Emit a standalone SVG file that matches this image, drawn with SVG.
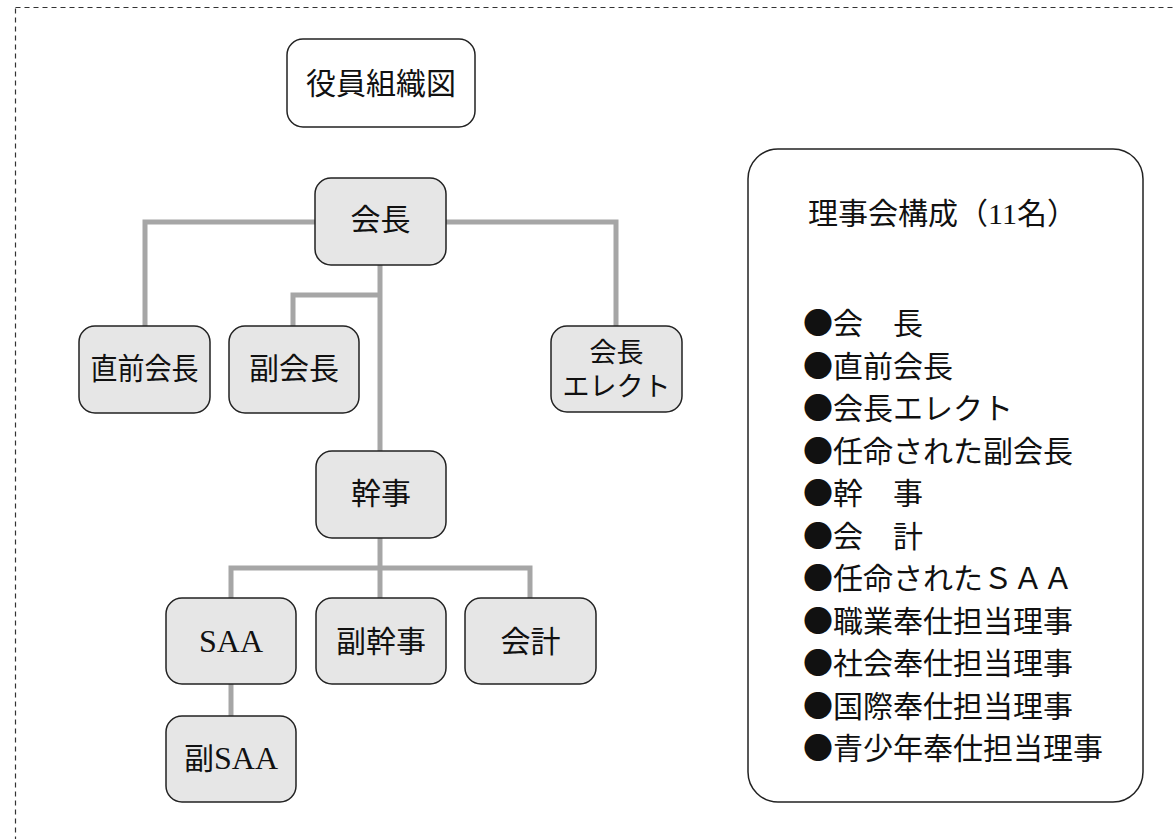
<svg xmlns="http://www.w3.org/2000/svg" width="1173" height="839" viewBox="0 0 1173 839">
<style>
text{font-family:"Liberation Serif","Noto Sans CJK JP",serif;fill:#111;}
.node{fill:#e6e6e6;stroke:#222;stroke-width:1.5;}
.plain{fill:#fff;stroke:#222;stroke-width:1.5;}
.c{fill:none;stroke:#a6a6a6;stroke-width:5;}
.t{font-size:30px;text-anchor:middle;}
.l{font-size:30px;font-family:"Noto Sans CJK JP",sans-serif;}
.lat{font-size:32px;}
</style>
<rect x="15.5" y="7.5" width="1200" height="900" fill="none" stroke="#333" stroke-width="1.2" stroke-dasharray="5,4"/>
<g id="connectors">
<path class="c" d="M315 222H145V326"/>
<path class="c" d="M446 222H616V326"/>
<path class="c" d="M380 265V451"/>
<path class="c" d="M380 295H293V326"/>
<path class="c" d="M380 538V598"/>
<path class="c" d="M231 598V568H530V598"/>
<path class="c" d="M231 684V716"/>
</g>
<g id="title"><rect class="plain" x="287" y="39" width="188" height="88" rx="16"/><text class="t" x="381" y="94">役員組織図</text></g>
<g id="kaicho"><rect class="node" x="315" y="178" width="131" height="87" rx="16"/><text class="t" x="380.5" y="230">会長</text></g>
<g id="chokuzen"><rect class="node" x="79" y="326" width="131" height="87" rx="16"/><text class="t" x="144.5" y="379" textLength="108" lengthAdjust="spacingAndGlyphs">直前会長</text></g>
<g id="fukukaicho"><rect class="node" x="229" y="326" width="130" height="87" rx="16"/><text class="t" x="294" y="379">副会長</text></g>
<g id="elect"><rect class="node" x="551" y="326" width="131" height="86" rx="16"/><text class="t" x="616.5" y="362" style="font-size:27px">会長</text><text class="t" x="616.5" y="396" style="font-size:27px">エレクト</text></g>
<g id="kanji"><rect class="node" x="316" y="451" width="130" height="87" rx="16"/><text class="t" x="381" y="504">幹事</text></g>
<g id="saa"><rect class="node" x="166" y="598" width="130" height="86" rx="16"/><text class="t lat" x="231" y="652">SAA</text></g>
<g id="fukukanji"><rect class="node" x="316" y="598" width="130" height="86" rx="16"/><text class="t" x="381" y="652">副幹事</text></g>
<g id="kaikei"><rect class="node" x="465" y="598" width="131" height="86" rx="16"/><text class="t" x="530.5" y="652">会計</text></g>
<g id="fukusaa"><rect class="node" x="166" y="716" width="130" height="86" rx="16"/><text class="t" x="231" y="769">副<tspan class="lat">SAA</tspan></text></g>
<g id="board">
<rect class="plain" x="748" y="149" width="395" height="653" rx="30"/>
<text x="808" y="224" style="font-size:30px">理事会構成（11名）</text>
<text class="l" x="803" y="334">●会　長</text>
<text class="l" x="803" y="376.5">●直前会長</text>
<text class="l" x="803" y="419">●会長エレクト</text>
<text class="l" x="803" y="461.5">●任命された副会長</text>
<text class="l" x="803" y="504">●幹　事</text>
<text class="l" x="803" y="546.5">●会　計</text>
<text class="l" x="803" y="589">●任命されたＳＡＡ</text>
<text class="l" x="803" y="631.5">●職業奉仕担当理事</text>
<text class="l" x="803" y="674">●社会奉仕担当理事</text>
<text class="l" x="803" y="716.5">●国際奉仕担当理事</text>
<text class="l" x="803" y="759">●青少年奉仕担当理事</text>
</g>
</svg>
